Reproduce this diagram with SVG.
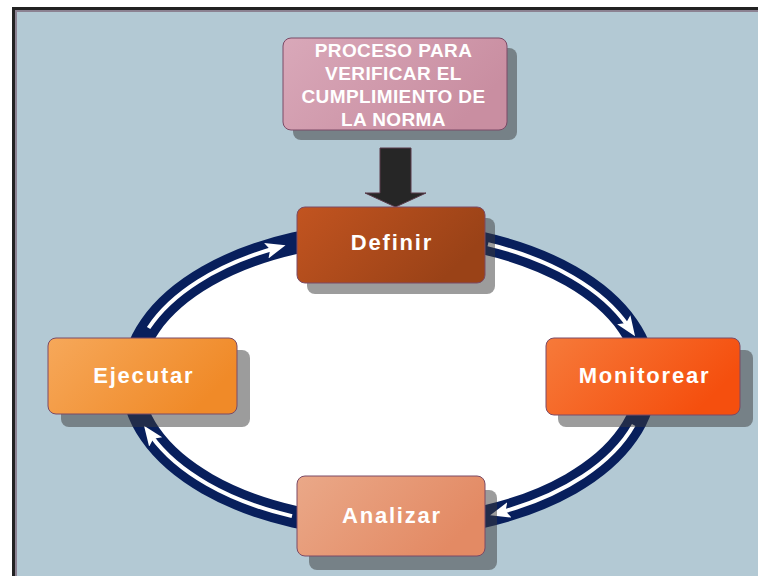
<svg xmlns="http://www.w3.org/2000/svg" width="758" height="576" viewBox="0 0 758 576">
  <defs>
    <style>
      .box { stroke: #7a4a66; stroke-width: 1; }
      .shadow { fill: #3a3a3a; opacity: 0.5; }
      .lbl { font-family: "Liberation Sans", Arial, sans-serif; font-weight: bold; fill: #ffffff; text-anchor: middle; }
      .big { font-size: 22px; letter-spacing: 1.8px; }
      .small { font-size: 19px; letter-spacing: 0.4px; }
      .flow { fill: none; stroke: #ffffff; stroke-width: 4; marker-end: url(#head); }
    </style>
    <marker id="head" markerUnits="userSpaceOnUse" markerWidth="24" markerHeight="18" refX="8" refY="8" orient="auto">
      <path d="M0,0 L20,8 L0,16 L4,8 z" fill="#ffffff"/>
    </marker>
    <linearGradient id="gProc" x1="0" y1="0" x2="1" y2="0.4">
      <stop offset="0" stop-color="#d9a8b9"/>
      <stop offset="1" stop-color="#c98ea1"/>
    </linearGradient>
    <linearGradient id="gDef" x1="0" y1="0" x2="1" y2="0.4">
      <stop offset="0" stop-color="#c25420"/>
      <stop offset="1" stop-color="#9a4217"/>
    </linearGradient>
    <linearGradient id="gMon" x1="0" y1="0" x2="1" y2="0.4">
      <stop offset="0" stop-color="#f67a3a"/>
      <stop offset="1" stop-color="#f54f0e"/>
    </linearGradient>
    <linearGradient id="gEje" x1="0" y1="0" x2="1" y2="0.4">
      <stop offset="0" stop-color="#f6a85a"/>
      <stop offset="1" stop-color="#f08a28"/>
    </linearGradient>
    <linearGradient id="gAna" x1="0" y1="0" x2="1" y2="0.4">
      <stop offset="0" stop-color="#eaa888"/>
      <stop offset="1" stop-color="#e38a64"/>
    </linearGradient>
  </defs>

  <!-- frame / background -->
  <rect x="0" y="0" width="758" height="576" fill="#ffffff"/>
  <rect x="12" y="7" width="746" height="569" fill="#222222"/>
  <rect x="15" y="10" width="743" height="566" fill="#8c8292"/>
  <rect x="17" y="12" width="741" height="564" fill="#b3c9d4"/>

  <g id="connectors">
    <ellipse cx="389" cy="380" rx="257" ry="147" fill="#ffffff" stroke="#081f5c" stroke-width="22"/>
    <path class="flow" d="M148.6,328 A257,147 0 0 1 274,248.5"/>
    <path class="flow" d="M488,244.3 A257,147 0 0 1 628.3,326.4"/>
    <path class="flow" d="M633.7,425 A257,147 0 0 1 501.7,512.1"/>
    <path class="flow" d="M292,516.1 A257,147 0 0 1 151,435.5"/>
    <polygon points="380,148 411,148 411,193 426,193 395.5,207 365,193 380,193" fill="#262626" stroke="#5a3a4a" stroke-width="1"/>
  </g>

  <g id="proceso">
    <rect class="shadow" x="293" y="48" width="224" height="92" rx="8"/>
    <rect class="box" x="283" y="38" width="224" height="92" rx="8" fill="url(#gProc)"/>
    <text class="lbl small" x="393.5" y="57">PROCESO PARA</text>
    <text class="lbl small" x="393.5" y="80">VERIFICAR EL</text>
    <text class="lbl small" x="393.5" y="103">CUMPLIMIENTO DE</text>
    <text class="lbl small" x="393.5" y="126">LA NORMA</text>
  </g>

  <g id="definir">
    <rect class="shadow" x="307" y="218" width="188" height="76" rx="8"/>
    <rect class="box" x="297" y="207" width="188" height="76" rx="8" fill="url(#gDef)"/>
    <text class="lbl big" x="392" y="250">Definir</text>
  </g>

  <g id="monitorear">
    <rect class="shadow" x="558" y="350" width="195" height="77" rx="8"/>
    <rect class="box" x="546" y="338" width="194" height="77" rx="8" fill="url(#gMon)"/>
    <text class="lbl big" x="644.5" y="383">Monitorear</text>
  </g>

  <g id="ejecutar">
    <rect class="shadow" x="61" y="350" width="189" height="77" rx="8"/>
    <rect class="box" x="48" y="338" width="189" height="76" rx="8" fill="url(#gEje)"/>
    <text class="lbl big" x="143.8" y="383">Ejecutar</text>
  </g>

  <g id="analizar">
    <rect class="shadow" x="309" y="490" width="188" height="80" rx="8"/>
    <rect class="box" x="297" y="476" width="188" height="80" rx="8" fill="url(#gAna)"/>
    <text class="lbl big" x="392" y="523">Analizar</text>
  </g>
</svg>
